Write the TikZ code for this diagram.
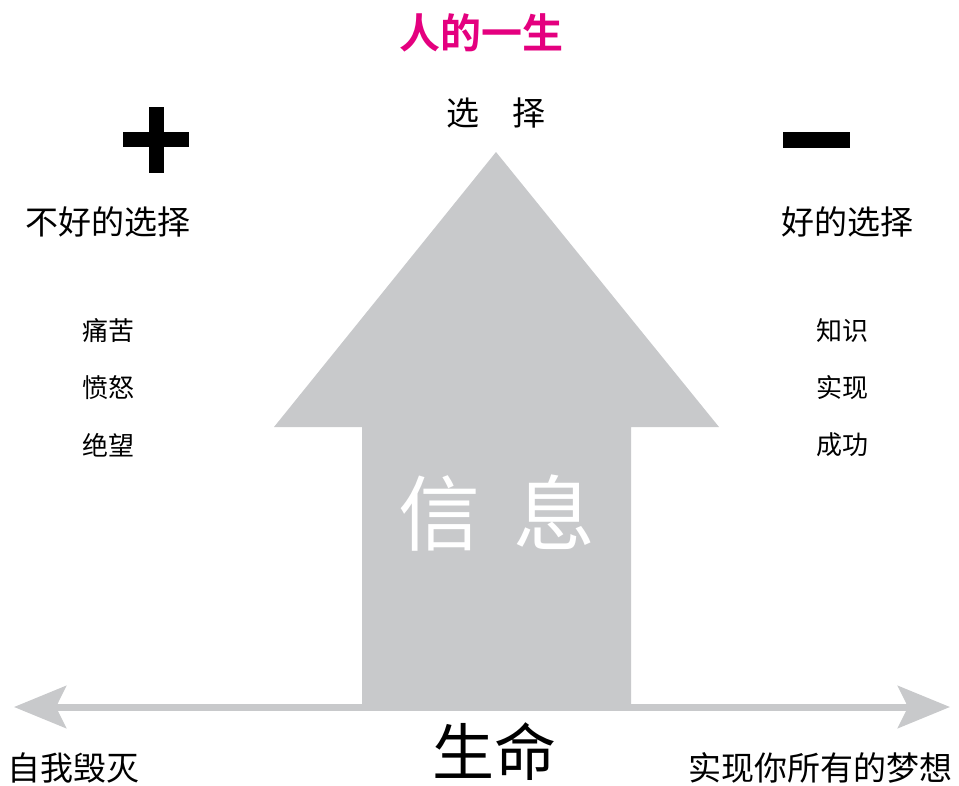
\documentclass[tikz,border=0pt]{standalone}
\usepackage{fontspec}
\usetikzlibrary{arrows.meta}
\newfontfamily\cjk{Noto Sans CJK SC}
\newfontfamily\cjkb{Noto Sans CJK SC Bold}
\definecolor{arrowgray}{HTML}{C8C9CB}
\definecolor{titlemag}{HTML}{E4007F}
\tikzset{
  txt/.style={inner sep=0pt, font=\cjk\fontsize{33}{33}\selectfont},
  small/.style={inner sep=0pt, font=\cjk\fontsize{26}{26}\selectfont},
  signbar/.style={fill=black, draw=none},
  gtip/.tip={Stealth[length=52pt, width=42pt, inset=10pt]}
}
\begin{document}
\begin{tikzpicture}[x=1pt,y=-1pt]
\useasboundingbox (0,0) rectangle (959,785);
% big upward arrow
\fill[arrowgray] (496,152) -- (719,427) -- (631,427) -- (631,707) -- (362,707) -- (362,427) -- (274,427) -- cycle;
% horizontal double arrow
\coordinate (L) at (14,707);
\coordinate (R) at (950,707);
\draw[arrowgray, line width=7pt, {gtip}-{gtip}] (L) -- (R);
% plus and minus
\fill[signbar] (123,132) rectangle (189,147);
\fill[signbar] (149,107) rectangle (164,173);
\fill[signbar] (783,132) rectangle (850,148);
% texts
\node[inner sep=0pt, font=\cjkb\fontsize{41}{41}\selectfont, text=titlemag] (title) at (481,33) {人的一生};
\node[txt] (choose) at (496,113) {选\hspace{33pt}择};
\node[txt] (bad) at (108,222) {不好的选择};
\node[txt] (good) at (847,222) {好的选择};
\node[small] (l1) at (108,331) {痛苦};
\node[small] (l2) at (108,388) {愤怒};
\node[small] (l3) at (108,445) {绝望};
\node[small] (r1) at (842,331) {知识};
\node[small] (r2) at (842,388) {实现};
\node[small] (r3) at (842,445) {成功};
\node[inner sep=0pt, font=\cjk\fontsize{82}{82}\selectfont, text=white] (info) at (497,513) {信\hspace{34pt}息};
\node[inner sep=0pt, font=\cjk\fontsize{62}{62}\selectfont] (life) at (494,752) {生命};
\node[txt] (destroy) at (74,768) {自我毁灭};
\node[txt] (dreams) at (820,768) {实现你所有的梦想};
\end{tikzpicture}
\end{document}
